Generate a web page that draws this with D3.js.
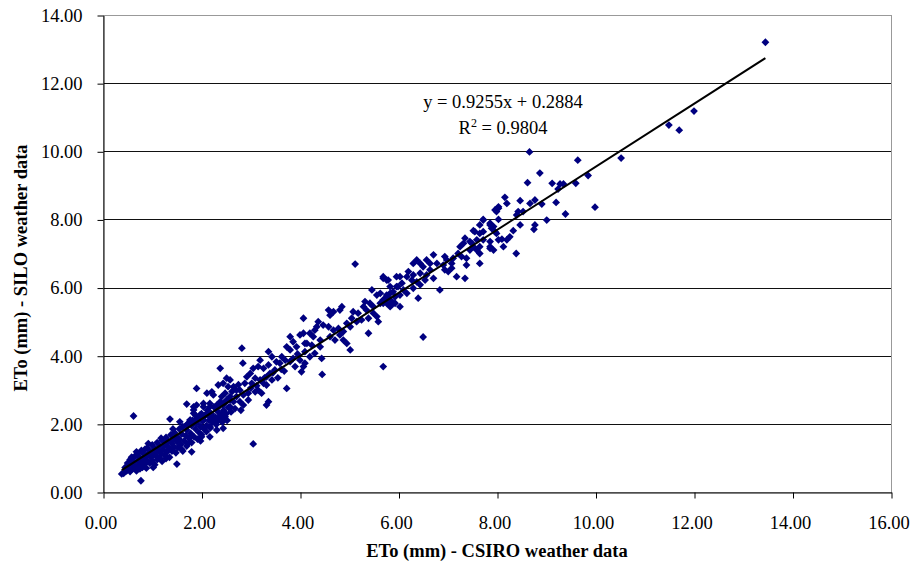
<!DOCTYPE html>
<html><head><meta charset="utf-8">
<script src="https://cdn.jsdelivr.net/npm/d3@7"></script>
<style>body{margin:0;background:#fff}</style>
</head><body><svg id="c" width="914" height="570"></svg>
<script>
const xTicks=[0,2,4,6,8,10,12,14,16];
const yTicks=[0,2,4,6,8,10,12,14];
const trendSlope=0.9255, trendIntercept=0.2884;
const eqLine1="y = 0.9255x + 0.2884";
const r2Text="0.9804";
const xTitle="ETo (mm) - CSIRO weather data";
const yTitle="ETo (mm) - SILO weather data";

// [CSIRO ETo, SILO ETo]
const obsCluster=[[0.42,0.55],[0.45,0.72],[0.48,0.62],[0.5,0.85],[0.52,0.7],[0.55,0.95],[0.55,0.6],[0.58,0.8],[0.6,0.68],[0.6,1.0],[0.62,0.88],[0.65,0.75],[0.65,1.05],
[0.68,0.62],[0.7,0.9],[0.7,1.12],[0.72,0.78],[0.75,1.0],[0.75,0.68],[0.78,0.88],[0.8,1.15],[0.8,0.72],[0.82,0.98],[0.85,1.25],[0.85,0.82],[0.88,1.05],[0.88,0.7],[0.9,0.92],[0.9,1.3],
[0.92,1.12],[0.95,0.85],[0.95,1.2],[0.98,1.02],[1.0,1.38],[1.0,0.92],[1.02,1.15],[1.05,0.8],[1.05,1.28],[1.08,1.05],[1.1,1.45],[1.1,0.95],[1.12,1.2],[1.15,1.35],[1.15,1.0],[1.18,1.12],[1.2,1.52],[1.2,0.9],
[1.22,1.25],[1.25,1.4],[1.25,1.08],[1.28,1.6],[1.3,1.18],[1.3,1.35],[1.32,1.5],[1.35,1.02],[1.35,1.28],[1.38,1.68],[1.4,1.42],[1.4,1.2],[1.42,1.55],[1.45,1.32],[1.45,1.75],[1.48,1.15],[1.5,1.48],[1.5,1.62],
[1.52,1.3],[1.55,1.85],[1.55,1.55],[1.58,1.4],[1.6,1.7],[1.6,1.25],[1.62,1.92],[1.65,1.5],[1.68,1.65],[1.7,1.35],[1.7,1.82],[1.72,2.0],[1.75,1.58],[1.78,1.72],[1.8,1.45],[1.8,1.95],
[1.82,2.1],[1.85,1.62],[1.88,1.85],[1.9,2.02],[1.92,1.55],[1.95,2.2],[1.95,1.75],[1.98,1.92],[2.0,2.3],[2.0,1.68],[2.02,2.08],[2.05,1.85],[2.08,2.25],[2.1,1.95],
[2.12,2.4],[2.15,2.1],[2.18,1.88],[2.2,2.3],[2.22,2.05],[2.25,2.5],[2.28,2.2],[2.3,1.98],[2.32,2.38],[2.35,2.15],[2.38,2.55],[2.4,2.28],[2.42,2.05],[2.45,2.4],[2.48,2.62],[2.5,2.3],[2.52,2.1],[2.55,2.48],[2.58,2.7],[2.6,2.35],
[1.7,2.58],[1.84,2.5],[2.04,2.6],[2.17,2.5],[2.31,2.55],[2.44,2.6],[1.36,2.14],[1.56,2.06],[1.77,2.11],[1.7,1.97],[1.9,2.16],[2.04,2.21],[2.17,2.26],[2.31,2.11],[2.48,2.21],[2.17,1.92],[2.1,1.77],[2.0,1.62],[2.17,1.62],[2.31,1.82],[2.44,1.87],[1.73,1.43],[1.8,1.18],[1.5,0.82],[0.77,0.33],[0.38,0.53],[0.62,2.23],
[1.9,3.04],[2.21,2.94],[2.24,2.85],[2.11,2.9],[2.41,2.8],[2.48,2.9],[2.51,2.7],[2.58,2.8],[2.38,2.65],[2.65,2.65],[2.44,2.55],[2.58,2.5],[2.31,2.46],[2.17,2.6],[2.04,2.5],[1.9,2.55],[1.84,2.41],[1.84,2.31],[1.97,2.26],[2.11,2.31],[2.17,2.21],[2.24,2.16],[2.38,2.26],[2.44,2.16],[2.31,2.06],[2.04,2.11],[1.9,2.06],[1.77,2.11],
[0.58,1.02],[0.68,1.18],[0.78,1.22],[0.92,1.42],[1.02,0.72],[1.18,1.58],[1.28,0.98],[1.42,1.85],[1.62,1.2],[1.88,2.25],[1.98,1.5],[2.62,2.95],[2.68,2.45],[2.75,3.15],[2.8,2.4]];

const obsMid=[[4.0,4.61],[4.07,4.66],[3.8,4.56],[3.86,4.41],[3.73,4.26],[3.8,4.17],[3.93,4.26],[4.1,4.36],[2.82,4.22],[3.36,4.12],[3.43,3.97],[3.63,3.97],[3.7,3.87],[3.59,3.78],[3.8,3.83],[3.86,3.92],[4.0,3.87],[4.1,3.78],[4.03,3.53],[3.19,3.87],[3.36,3.73],[3.15,3.68],[3.26,3.63],[3.39,3.48],[3.49,3.58],[2.84,3.78],[2.38,3.63],[3.05,3.63],[2.99,3.48],[2.92,3.38],[3.09,3.34],[2.88,3.19],[3.02,3.19],[3.19,3.29],[3.26,3.19],[3.43,3.29],[3.32,3.38],[3.73,3.04],[2.51,3.34],[2.58,3.29],[2.44,3.19],[2.34,3.14],[2.54,3.09],[2.65,3.09],[2.71,2.99],[2.78,2.99],[2.85,2.85],[2.95,2.9],[3.09,2.94],[3.15,2.99],[3.32,3.14],[3.22,2.9],[3.36,2.65],[3.32,2.55],[2.95,2.7],[2.85,2.55],[2.78,2.65],[2.71,2.8],
[3.0,3.05],[3.12,3.12],[3.28,3.35],[3.45,3.5],[3.55,3.35],[3.62,3.6],[3.52,3.82],[3.95,4.05],[3.68,3.55],[3.9,3.68],
[5.12,6.69],[5.69,6.32],[5.79,6.22],[5.96,6.32],[5.99,6.03],[5.46,5.93],[5.56,5.78],[5.63,5.83],[5.76,5.73],[5.83,5.83],[5.93,5.73],[5.32,5.59],[5.42,5.54],[5.29,5.44],[5.35,5.34],[5.49,5.44],[5.63,5.54],[5.69,5.64],[5.76,5.54],[5.83,5.44],[5.93,5.54],[6.03,5.44],[5.49,5.25],[5.56,5.15],[5.59,5.0],[5.39,5.1],[4.85,5.44],[4.81,5.34],[4.58,5.34],[4.68,5.29],[4.61,5.19],[5.08,5.29],[5.18,5.25],[5.05,5.1],[5.15,5.0],[5.25,5.05],[4.95,4.95],[5.02,4.85],[5.39,4.66],[4.07,5.1],[4.37,5.0],[4.47,4.9],[4.34,4.85],[4.58,4.85],[4.68,4.75],[4.78,4.8],[4.88,4.71],[4.81,4.61],[4.61,4.56],[4.71,4.46],[4.88,4.46],[4.95,4.36],[5.02,4.17],[4.3,4.75],[4.2,4.66],[4.27,4.56],[4.41,4.46],[4.14,4.36],[4.24,4.31],[4.41,4.26],[4.1,4.12],[4.07,3.68],[4.2,3.97],[4.3,4.07],[4.44,3.92],[5.69,3.68],[4.45,3.45]];

const obsUpper=[[7.65,7.84],[7.72,7.98],[7.86,7.89],[7.93,7.79],[7.55,7.64],[7.65,7.59],[7.72,7.64],[7.35,7.45],[7.32,7.3],[7.45,7.35],[7.52,7.2],[7.45,7.1],[7.59,7.1],[7.65,7.0],[7.86,7.15],[7.93,7.1],[8.03,7.4],[7.99,7.59],[7.25,7.2],[7.21,7.0],[7.28,6.91],[7.38,6.86],[7.65,6.71],[7.38,6.66],[6.94,6.91],[6.98,6.81],[7.11,6.86],[7.08,6.71],[6.91,6.66],[6.71,6.96],[6.78,6.71],[6.94,6.52],[7.01,6.47],[7.08,6.57],[7.18,6.32],[7.35,6.27],[6.37,6.81],[6.44,6.71],[6.3,6.71],[6.57,6.81],[6.64,6.71],[6.5,6.61],[6.64,6.52],[6.44,6.42],[6.57,6.37],[6.71,6.27],[6.54,6.22],[6.84,5.93],[6.2,6.47],[6.17,6.32],[6.3,6.37],[6.27,6.22],[6.37,6.17],[6.44,6.08],[6.3,5.98],[6.03,6.32],[6.07,6.13],[5.96,6.03],[6.1,5.93],[6.17,5.83],[6.03,5.78],[5.69,6.27],[5.76,6.22],[5.83,6.03],[5.89,5.88],[5.76,5.78],[5.83,5.64],[5.69,5.54],[5.89,5.54],[6.4,5.69],[8.03,8.37],[7.96,8.28],
[8.66,9.98],[9.64,9.74],[8.87,9.36],[9.85,9.29],[8.62,9.08],[9.12,9.06],[9.28,9.04],[9.35,9.04],[9.24,8.89],[9.6,9.06],[8.16,8.65],[8.2,8.47],[8.47,8.55],[8.67,8.47],[8.77,8.57],[8.91,8.45],[9.2,8.5],[9.99,8.36],[9.39,8.16],[9.01,7.98],[8.03,8.33],[7.99,8.23],[8.43,8.23],[8.4,8.13],[8.53,8.23],[8.77,7.84],[8.75,7.71],[8.47,7.84],[7.72,8.0],[7.86,7.84],[7.89,7.74],[7.52,7.67],[7.96,7.64],[8.03,8.0],[8.33,7.67],[8.26,7.49],[8.2,7.4],[8.1,7.42],[8.13,7.2],[7.72,7.4],[7.59,7.4],[7.49,7.3],[7.86,7.35],[7.86,7.2],[7.65,7.2]];

const obsOutliers=[[13.45,13.2],[12.0,11.18],[11.49,10.77],[11.7,10.62],[10.52,9.8],[8.39,7.0],[6.5,4.55],[3.05,1.41]];

const allObs=[...obsCluster,...obsMid,...obsUpper,...obsOutliers];

const svg=d3.select("#c");
const font="'Liberation Serif','Times New Roman',serif";
const x=d3.scaleLinear().domain([0,16]).range([103,891]);
const y=d3.scaleLinear().domain([0,14]).range([492,15]);

// gridlines
svg.append("g").selectAll("line").data(yTicks.filter(d=>d>0&&d<14)).join("line")
  .attr("x1",x(0)).attr("x2",x(16))
  .attr("y1",d=>Math.round(y(d))+0.5).attr("y2",d=>Math.round(y(d))+0.5)
  .attr("stroke","#111").attr("stroke-width",1);

// plot border
svg.append("rect").attr("x",x(0)+0.5).attr("y",Math.round(y(14))+0.5)
  .attr("width",x(16)-x(0)).attr("height",Math.round(y(0))-Math.round(y(14)))
  .attr("fill","none").attr("stroke","#999");

// axes
const yAxis=d3.axisLeft(y).tickValues(yTicks).tickFormat(d3.format(".2f")).tickSize(6).tickSizeOuter(0).tickPadding(15);
const xAxis=d3.axisBottom(x).tickValues(xTicks).tickFormat(d3.format(".2f")).tickSize(6).tickSizeOuter(0).tickPadding(17);
const gy=svg.append("g").attr("transform",`translate(${x(0)+0.5},0.5)`).call(yAxis);
const gx=svg.append("g").attr("transform",`translate(0.5,${Math.round(y(0))+0.5})`).call(xAxis);
[gx,gy].forEach(g=>{
  g.selectAll("path,line").attr("stroke","#000");
  g.selectAll("text").attr("font-family",font).attr("font-size","18.5px").attr("fill","#000");
});
gx.selectAll("text").attr("dx","-3");

// points
const diamond="M0,-3.9L3.9,0L0,3.9L-3.9,0Z";
svg.append("g").selectAll("path").data(allObs).join("path")
  .attr("d",diamond)
  .attr("transform",d=>`translate(${x(d[0])},${y(d[1])})`)
  .attr("fill","#000080");

// trendline
const xExt=d3.extent(allObs,d=>d[0]);
svg.append("line")
  .attr("x1",x(xExt[0])).attr("y1",y(trendSlope*xExt[0]+trendIntercept))
  .attr("x2",x(xExt[1])).attr("y2",y(trendSlope*xExt[1]+trendIntercept))
  .attr("stroke","#000").attr("stroke-width",2);

// equation
svg.append("text").attr("x",503).attr("y",108).attr("text-anchor","middle")
  .attr("font-family",font).attr("font-size","18.5px").text(eqLine1);
const r2=svg.append("text").attr("x",503).attr("y",134).attr("text-anchor","middle")
  .attr("font-family",font).attr("font-size","18.5px");
r2.append("tspan").text("R");
r2.append("tspan").attr("dy","-7").attr("font-size","12px").text("2");
r2.append("tspan").attr("dy","7").text(" = "+r2Text);

// axis titles
svg.append("text").attr("x",497).attr("y",557).attr("text-anchor","middle")
  .attr("font-family",font).attr("font-size","18.5px").attr("font-weight","bold").text(xTitle);
svg.append("text").attr("transform","translate(27,268) rotate(-90)").attr("text-anchor","middle")
  .attr("font-family",font).attr("font-size","18.5px").attr("font-weight","bold").text(yTitle);
</script></body></html>
